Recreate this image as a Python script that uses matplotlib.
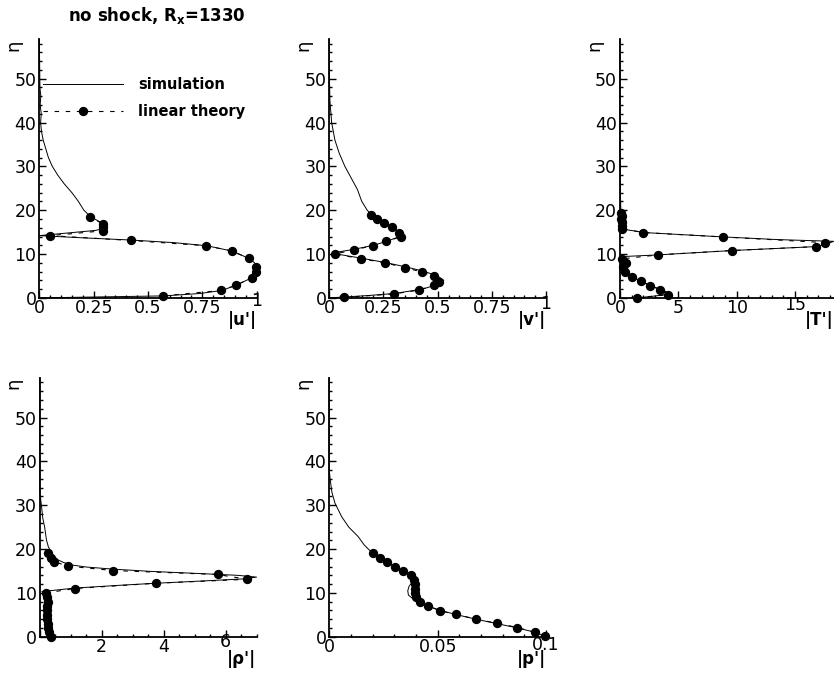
import matplotlib
matplotlib.use('Agg')
import matplotlib.pyplot as plt
from matplotlib.ticker import MultipleLocator
from matplotlib.transforms import ScaledTranslation

plt.rcParams['font.family'] = ['DejaVu Sans']

# ---- data ----
# |u'|
u_sim_eta = [0, 0.45, 1.0, 1.7, 2.9, 4.6, 6.0, 7.2, 8.0, 9.0, 10.7, 11.9, 12.6, 13.2, 13.7, 14.2,
             14.8, 15.4, 15.9, 16.5, 17.0, 18.0, 18.7, 20, 22, 24, 26, 28, 30, 32, 34, 36, 38,
             40, 42, 44, 46, 48, 52, 56, 59]
u_sim = [0, 0.57, 0.74, 0.84, 0.906, 0.978, 0.998, 0.998, 0.99, 0.965, 0.885, 0.77, 0.62, 0.42,
         0.2, 0.0, 0.13, 0.26, 0.30, 0.296, 0.29, 0.255, 0.232, 0.205, 0.18, 0.15, 0.115, 0.085,
         0.06, 0.042, 0.03, 0.018, 0.01, 0.006, 0.009, 0.004, 0.007, 0.003, 0.002, 0.001, 0.0]
u_lin_eta = [0.46, 1.7, 2.9, 4.6, 6.0, 7.1, 9.0, 10.7, 11.9, 13.1, 14.2, 15.3, 16.1, 16.9, 18.5]
u_lin = [0.57, 0.837, 0.906, 0.977, 0.995, 0.995, 0.965, 0.885, 0.767, 0.42, 0.049, 0.294, 0.294,
         0.291, 0.233]

# |v'|
v_sim_eta = [0, 0.5, 1, 2, 3, 4, 5, 6, 7, 8, 9, 10, 10.3, 11, 12, 13, 14, 14.5, 15, 16, 17, 18,
             19, 20, 22, 24.7, 27, 30, 33, 36, 40, 45, 50, 59]
v_sim = [0, 0.17, 0.3, 0.43, 0.495, 0.528, 0.5, 0.44, 0.36, 0.265, 0.155, 0.035, 0.02, 0.105, 0.205,
         0.27, 0.325, 0.335, 0.325, 0.29, 0.255, 0.225, 0.195, 0.175, 0.15, 0.13, 0.105, 0.072,
         0.046, 0.026, 0.011, 0.003, 0.001, 0]
v_lin_eta = [0.1, 0.9, 1.8, 2.9, 3.7, 4.9, 5.9, 6.9, 8.0, 8.95, 10.0, 11.0, 11.9, 12.9, 13.9, 14.8,
             16.1, 17.0, 18.0, 19.0]
v_lin = [0.068, 0.298, 0.416, 0.482, 0.505, 0.482, 0.428, 0.349, 0.257, 0.145, 0.026, 0.115, 0.203,
         0.262, 0.329, 0.323, 0.288, 0.252, 0.222, 0.194]

# |T'|
T_sim_eta = [0, 0.3, 0.9, 1.9, 2.8, 3.8, 4.8, 5.9, 7.0, 8.0, 8.9, 9.4, 9.8, 10.8, 11.7, 12.2, 12.9,
             13.3, 13.9, 14.9, 15.6, 16.5, 18, 20, 23, 27, 32, 40, 59]
T_sim = [1.4, 2.6, 4.4, 3.5, 2.6, 1.8, 1.05, 0.45, 0.3, 0.45, 0.15, 0.05, 3.2, 9.6, 16.8, 17.6, 18.3,
         13.5, 8.9, 2.1, 0.45, 0.2, 0.12, 0.08, 0.05, 0.03, 0.01, 0, 0]
T_lin_eta = [0, 0.75, 1.9, 2.8, 3.8, 4.8, 5.9, 7.0, 8.0, 8.9, 9.8, 10.8, 11.7, 12.6, 13.9, 14.9,
             15.8, 16.5, 17.2, 18.0, 18.7, 19.4]
T_lin = [1.44, 4.14, 3.43, 2.58, 1.8, 1.06, 0.44, 0.29, 0.5, 0.15, 3.24, 9.57, 16.8, 17.6, 8.85, 2.0,
         0.2, 0.15, 0.15, 0.12, 0.15, 0.12]

# |rho'|
r_sim_eta = [0, 1, 2, 4, 6, 8, 9, 9.8, 10.3, 10.7, 11.1, 11.7, 12.2, 12.8, 13.2, 13.6, 14.0, 14.4,
             14.9, 15.4, 15.9, 16.4, 17.0, 17.5, 18.3, 19, 20.5, 22, 25, 27, 29.7, 31.5, 33, 59]
r_sim = [0.45, 0.42, 0.38, 0.36, 0.35, 0.33, 0.3, 0.2, 0.07, 0.6, 1.14, 2.5, 3.75, 5.5, 6.6, 7.0,
         6.4, 5.2, 3.6, 2.4, 1.5, 1.0, 0.75, 0.6, 0.47, 0.4, 0.28, 0.22, 0.16, 0.1, 0.06, 0.03, 0, 0]
r_lin_eta = [0, 1, 2, 3, 4, 5, 6, 7, 8, 9, 10, 11.0, 12.2, 13.1, 14.2, 15.1, 16.1, 17.1, 17.9, 19.0]
r_lin = [0.38, 0.3, 0.27, 0.26, 0.25, 0.25, 0.25, 0.25, 0.26, 0.25, 0.2, 1.14, 3.75, 6.7, 5.74, 2.37,
         0.92, 0.47, 0.36, 0.28]

# |p'|
p_sim_eta = [0, 1, 2, 3, 4, 5, 6, 7, 8, 8.7, 9.5, 10.5, 11.5, 12.3, 13, 13.6, 14, 15, 16, 17, 18,
             19, 20, 21, 22.8, 25, 27.4, 30.5, 33, 36, 38, 59]
p_sim = [0.1, 0.095, 0.0868, 0.0772, 0.0676, 0.059, 0.0511, 0.0457, 0.0419, 0.0385, 0.0365, 0.0362,
         0.0368, 0.038, 0.0388, 0.0385, 0.0377, 0.0341, 0.0303, 0.0265, 0.0234, 0.0203, 0.018,
         0.016, 0.0134, 0.009, 0.0057, 0.0026, 0.0012, 0.0004, 0, 0]
p_lin_eta = [0.15, 1.0, 2.1, 3.1, 4.0, 5.1, 5.9, 7.0, 8.0, 9.0, 10.0, 11.0, 12.0, 13.0, 14.0, 15.0,
             16.0, 17.0, 18.0, 19.0]
p_lin = [0.0995, 0.0949, 0.0868, 0.0772, 0.0676, 0.0585, 0.0511, 0.0457, 0.0419, 0.040, 0.0397,
         0.0395, 0.0395, 0.0393, 0.0377, 0.0341, 0.0303, 0.0265, 0.0234, 0.0203]

eta_ticks = [0, 10, 20, 30, 40, 50]
u_ticks, u_ticklabels = [0, 0.25, 0.5, 0.75, 1], ['0', '0.25', '0.5', '0.75', '1']
T_ticks, T_ticklabels = [0, 5, 10, 15], ['0', '5', '10', '15']
r_ticks, r_ticklabels = [0, 2, 4, 6], ['', '2', '4', '6']
p_ticks, p_ticklabels = [0, 0.05, 0.1], ['0', '0.05', '0.1']

fig = plt.figure(figsize=(8.34, 6.77), dpi=100)


def panel(rect, xs, es, xl, el, xmax, ticks, labels, minor, name, lift):
    ax = fig.add_axes(rect)
    sim, = ax.plot(xs, es, color='black', lw=0.7, clip_on=False, label='simulation')
    lin, = ax.plot(xl, el, color='black', lw=0.8, ls=(0, (4, 6)), marker='o', ms=5.7,
                   clip_on=False, label='linear theory')
    ax.set_xlim(0, xmax)
    ax.set_ylim(0, 59)
    for s in ['top', 'right']:
        ax.spines[s].set_visible(False)
    for s in ['left', 'bottom']:
        ax.spines[s].set_linewidth(1.3)
    ax.set_xticks(ticks)
    ax.set_xticklabels(labels)
    ax.set_yticks(eta_ticks)
    ax.xaxis.set_minor_locator(MultipleLocator(minor))
    ax.yaxis.set_minor_locator(MultipleLocator(2))
    ax.tick_params(which='both', direction='in', labelsize=12.5, width=1)
    ax.tick_params(which='major', length=5)
    ax.tick_params(which='minor', length=2.5)
    ax.tick_params(axis='x', pad=1)
    ax.tick_params(axis='y', pad=2)
    last = ax.get_xticklabels()[-1]
    last.set_transform(last.get_transform() + ScaledTranslation(0, lift / 100, fig.dpi_scale_trans))
    ax.text(1, 0, name, transform=ax.transAxes + ScaledTranslation(0, -0.13, fig.dpi_scale_trans),
            ha='right', va='top', fontsize=12, fontweight='bold')
    ax.text(0, 1, 'η', transform=ax.transAxes + ScaledTranslation(-0.26, 0, fig.dpi_scale_trans),
            rotation=90, ha='center', va='top', fontsize=13)
    return ax, sim, lin


top_b, h = 0.560, 0.382
bot_b = 0.0595
ax1, sim, lin = panel([0.0471, top_b, 0.2607, h], u_sim, u_sim_eta, u_lin, u_lin_eta, 1,
                      u_ticks, u_ticklabels, 0.05, "|u'|", 7)
panel([0.3948, top_b, 0.2600, h], v_sim, v_sim_eta, v_lin, v_lin_eta, 1,
      u_ticks, u_ticklabels, 0.05, "|v'|", 4)
panel([0.7433, top_b, 0.2563, h], T_sim, T_sim_eta, T_lin, T_lin_eta, 18.3,
      T_ticks, T_ticklabels, 1, "|T'|", 3)
panel([0.0476, bot_b, 0.2600, h], r_sim, r_sim_eta, r_lin, r_lin_eta, 7,
      r_ticks, r_ticklabels, 0.5, "|ρ'|", 5)
panel([0.3948, bot_b, 0.2600, h], p_sim, p_sim_eta, p_lin, p_lin_eta, 0.1,
      p_ticks, p_ticklabels, 0.01, "|p'|", 2)

ax1.legend(handles=[sim, lin], loc='upper left', bbox_to_anchor=(0.017, 0.855), frameon=False,
           prop={'weight': 'bold', 'size': 10.5}, handlelength=5.5, handletextpad=1.0,
           labelspacing=0.85, borderpad=0, borderaxespad=0)

fig.text(157 / 834, 1 - 16 / 677, 'no shock, R$_\\mathbf{x}$=1330', ha='center', va='center',
         fontsize=12, fontweight='bold')

fig.savefig('out.png', dpi=100, facecolor='white')
